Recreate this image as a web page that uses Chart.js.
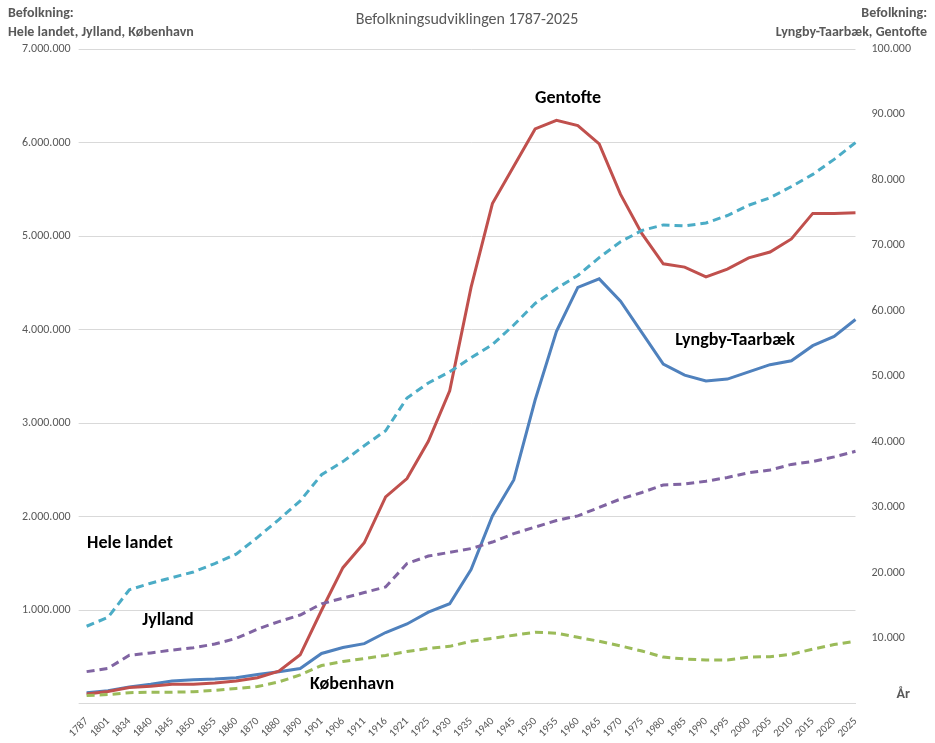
<!DOCTYPE html>
<html>
<head>
<meta charset="utf-8">
<script src="https://cdn.jsdelivr.net/npm/chart.js@4/dist/chart.umd.min.js"></script>
<style>
  body { margin: 0; background: #fff; }
  #wrap { width: 935px; height: 743px; }
</style>
</head>
<body>
<div id="wrap"><canvas id="chart"></canvas></div>
<script>
// Data
const years = ['1787','1801','1834','1840','1845','1850','1855','1860','1870','1880','1890','1901','1906','1911','1916','1921','1925','1930','1935','1940','1945','1950','1955','1960','1965','1970','1975','1980','1985','1990','1995','2000','2005','2010','2015','2020','2025'];

const heleLandet = [830000,925000,1220000,1290000,1350000,1410000,1500000,1600000,1780000,1970000,2170000,2450000,2590000,2760000,2920000,3270000,3430000,3550000,3700000,3840000,4050000,4280000,4440000,4580000,4770000,4940000,5060000,5120000,5110000,5140000,5220000,5330000,5410000,5530000,5660000,5820000,6000000];

const jylland = [345000,380000,520000,545000,575000,600000,640000,700000,800000,880000,950000,1070000,1130000,1190000,1250000,1500000,1580000,1620000,1660000,1730000,1820000,1890000,1960000,2010000,2100000,2190000,2260000,2340000,2350000,2380000,2420000,2470000,2500000,2560000,2590000,2640000,2700000];

const koebenhavn = [90000,100000,120000,125000,125000,130000,145000,165000,185000,235000,310000,410000,453000,485000,518000,560000,593000,615000,669000,701000,734000,766000,755000,712000,669000,620000,565000,500000,480000,470000,470000,500000,505000,530000,585000,635000,670000];

const gentofte = [1500,1900,2500,2700,3000,3000,3200,3500,4000,5000,7500,14300,20800,24600,31600,34400,40100,47800,63600,76400,82100,87800,89100,88300,85500,77800,71800,67200,66700,65200,66400,68100,69000,71000,74900,74900,75000];

const lyngby = [1700,2000,2600,3000,3500,3700,3800,4000,4500,4900,5400,7700,8600,9200,10900,12200,14000,15300,20500,28700,34200,46400,56900,63600,64900,61500,56700,51900,50200,49300,49600,50700,51800,52400,54700,56100,58700];

const fmt = (v) => v.toLocaleString('da-DK').replace(/,/g, '.');
const GREY = '#595959';
const FONT = 'Calibri, "Liberation Sans", sans-serif';

// tekster oven på diagrammet
const labelsPlugin = {
    id: 'labels',
    afterDraw(chart) {
        const c = chart.ctx;
        c.save();
        c.fillStyle = GREY;
        c.textBaseline = 'middle';
        c.font = '16px ' + FONT;
        c.textAlign = 'center';
        c.fillText('Befolkningsudviklingen 1787-2025', 467, 20);
        c.font = 'bold 14px ' + FONT;
        c.textAlign = 'left';
        c.fillText('Befolkning:', 8, 13);
        c.fillText('Hele landet, Jylland, København', 8, 32);
        c.textAlign = 'right';
        c.fillText('Befolkning:', 927, 13);
        c.fillText('Lyngby-Taarbæk, Gentofte', 927, 32);
        c.fillText('År', 910, 694);

        c.fillStyle = '#000';
        c.font = 'bold 18px Calibri, "Open Sans", sans-serif';
        c.textAlign = 'center';
        c.fillText('Gentofte', 568, 98);
        c.fillText('Lyngby-Taarbæk', 735, 340);
        c.fillText('Hele landet', 130, 543);
        c.fillText('Jylland', 168, 620);
        c.fillText('København', 352, 684);
        c.restore();
    },
};

const dashed = (label, data, color) => ({
    label, data, yAxisID: 'y',
    borderColor: color, borderWidth: 3, borderDash: [8, 5],
    pointRadius: 0, tension: 0, fill: false,
});
const solid = (label, data, color) => ({
    label, data, yAxisID: 'y1',
    borderColor: color, borderWidth: 3,
    pointRadius: 0, tension: 0, fill: false,
});

new Chart(document.getElementById('chart'), {
    type: 'line',
    data: {
        labels: years,
        datasets: [
            dashed('Hele landet', heleLandet, '#4BACC6'),
            dashed('Jylland', jylland, '#8064A2'),
            dashed('København', koebenhavn, '#9BBB59'),
            solid('Gentofte', gentofte, '#C0504D'),
            solid('Lyngby-Taarbæk', lyngby, '#4F81BD'),
        ],
    },
    options: {
        responsive: true,
        maintainAspectRatio: false,
        animation: false,
        layout: { padding: { top: 49, right: 16, left: 14, bottom: 0 } },
        plugins: {
            legend: { display: false },
            tooltip: { enabled: false },
        },
        scales: {
            x: {
                grid: { display: false },
                border: { color: '#d9d9d9' },
                ticks: {
                    color: GREY, font: { family: FONT, size: 11 },
                    maxRotation: 45, minRotation: 45, autoSkip: false,
                },
            },
            y: {
                position: 'left', min: 0, max: 7000000,
                border: { display: false },
                grid: { color: '#d9d9d9' },
                ticks: {
                    stepSize: 1000000, color: GREY, padding: 8,
                    font: { family: FONT, size: 12 },
                    callback: (v) => v === 0 ? '' : fmt(v),
                },
            },
            y1: {
                position: 'right', min: 0, max: 100000,
                border: { display: false },
                grid: { display: false },
                ticks: {
                    stepSize: 10000, color: GREY, padding: 8,
                    font: { family: FONT, size: 12 },
                    callback: (v) => v === 0 ? '' : fmt(v),
                },
            },
        },
    },
    plugins: [labelsPlugin],
});
</script>
</body>
</html>
